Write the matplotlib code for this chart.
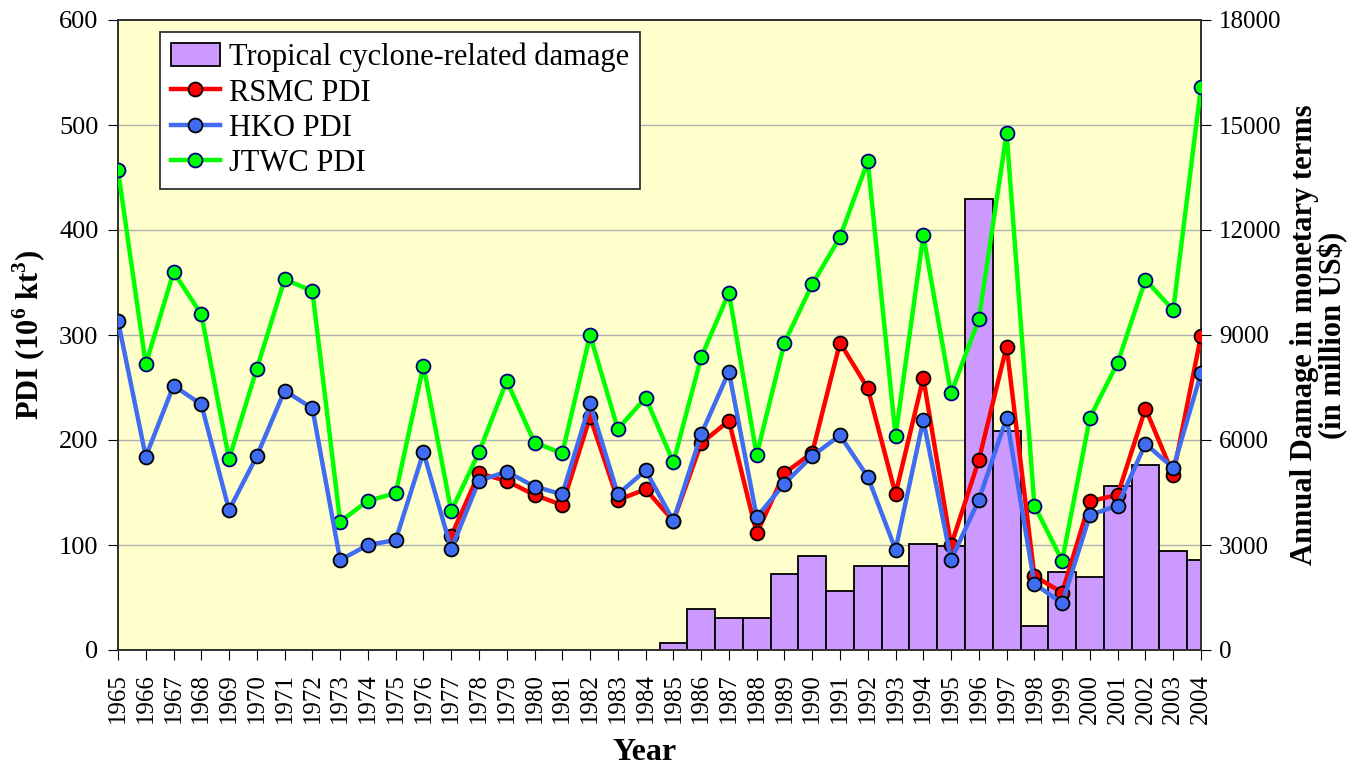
import matplotlib
matplotlib.use("Agg")
import matplotlib.pyplot as plt
import numpy as np
from matplotlib.patches import Patch
from matplotlib.lines import Line2D

years = list(range(1965, 2005))

rsmc = [None]*12 + [108.6, 168.3, 161.0, 147.6, 138.1, 221.9, 142.9, 153.0, 122.9, 196.8,
        218.4, 111.1, 168.3, 187.9, 292.7, 249.3, 148.5, 259.1, 99.6, 181.0,
        289.0, 70.4, 54.7, 141.6, 147.8, 229.9, 166.8, 299.3]
hko = [313.6, 184.1, 251.8, 233.9, 133.3, 184.8, 247.0, 230.2, 85.7, 100.0,
       104.8, 188.3, 96.2, 161.3, 169.8, 155.6, 148.3, 234.9, 148.3, 171.1,
       122.9, 205.4, 265.1, 126.7, 158.4, 184.8, 204.4, 165.0, 95.6, 219.0,
       85.8, 143.0, 221.2, 63.1, 44.5, 128.5, 137.6, 196.4, 173.4, 263.5]
jtwc = [457.0, 272.0, 360.0, 319.7, 181.9, 268.0, 353.0, 341.9, 122.2, 142.2,
        149.2, 270.8, 132.4, 188.3, 256.2, 197.5, 187.3, 300.0, 210.5, 240.3,
        178.7, 278.7, 340.3, 185.7, 292.7, 348.3, 393.3, 465.3, 203.6, 394.9,
        244.5, 315.0, 492.3, 137.6, 85.0, 221.2, 273.7, 352.6, 323.7, 536.5]
damage = [0]*20 + [210, 1162, 905, 905, 2162, 2686, 1690, 2400, 2411, 3022,
                   2967, 12873, 6262, 676, 2236, 2095, 4691, 5291, 2836, 2585]

rsmc_arr = np.array([np.nan if v is None else v for v in rsmc], dtype=float)

plt.rcParams["font.family"] = "serif"
plt.rcParams["font.serif"] = ["Liberation Serif", "DejaVu Serif"]
plt.rcParams["mathtext.fontset"] = "custom"
plt.rcParams["mathtext.rm"] = "Liberation Serif"
plt.rcParams["mathtext.bf"] = "Liberation Serif:bold"
FAM = "Liberation Serif"

fig = plt.figure(figsize=(13.61, 7.65), dpi=100)
ax = fig.add_axes([118/1361, 1-650/765, (1201-118)/1361, (650-20)/765])
ax2 = ax.twinx()

ax2.set_zorder(0)
ax.set_zorder(1)
ax.patch.set_visible(False)
ax2.patch.set_visible(True)
ax2.patch.set_facecolor("#FFFFCC")

ax2.bar(years, damage, width=1.0, color="#CC99FF", edgecolor="black", linewidth=1.3, zorder=2)
ax2.set_ylim(0, 18000)
ax2.set_yticks(np.arange(0, 18001, 3000))

for v in range(100, 600, 100):
    ax2.axhline(v*30, color="#B0B0B0", linewidth=1.0, zorder=1)

lw = 3.2
ms = 10
ax.plot(years, jtwc, color="#00FF00", lw=lw, marker="o", ms=ms, mfc="#00FF00", mec="#000080", mew=1.3, zorder=3)
ax.plot(years, rsmc_arr, color="#FF0000", lw=lw, marker="o", ms=ms, mfc="#FF0000", mec="black", mew=1.3, zorder=4)
ax.plot(years, hko, color="#3F6CF0", lw=lw, marker="o", ms=ms, mfc="#3F6CF0", mec="black", mew=1.3, zorder=5)

ax.set_xlim(1965, 2004)
ax.set_ylim(0, 600)
ax.set_yticks(np.arange(0, 601, 100))
ax.set_xticks(years)
ax.set_xticklabels([str(y) for y in years], rotation=90, fontsize=18, family=FAM)
ax.tick_params(axis="y", labelsize=19, length=7, direction="out", pad=7)
ax.tick_params(axis="x", length=7, direction="out", pad=10)
ax2.tick_params(axis="y", labelsize=18, length=7, direction="out", pad=6)
for lab in ax.get_yticklabels() + ax2.get_yticklabels():
    lab.set_family(FAM)

for a in (ax, ax2):
    for s in a.spines.values():
        s.set_linewidth(1.3)
        s.set_color("#333333")

ax.set_ylabel(r"PDI (10$^{\mathbf{6}}$ kt$^{\mathbf{3}}$)", fontsize=22, fontweight="bold", labelpad=8, family=FAM)
ax.set_xlabel("Year", fontsize=23, fontweight="bold", family=FAM)
ax.xaxis.set_label_coords(0.486, -0.14)
ax2.set_ylabel("Annual Damage in monetary terms\n(in million US$)", fontsize=22, fontweight="bold",
               labelpad=6, linespacing=0.95, family=FAM)

handles = [
    Patch(facecolor="#CC99FF", edgecolor="black", linewidth=1.3, label="Tropical cyclone-related damage"),
    Line2D([], [], color="#FF0000", lw=lw, marker="o", ms=ms, mfc="#FF0000", mec="black", mew=1.3, label="RSMC PDI"),
    Line2D([], [], color="#3F6CF0", lw=lw, marker="o", ms=ms, mfc="#3F6CF0", mec="black", mew=1.3, label="HKO PDI"),
    Line2D([], [], color="#00FF00", lw=lw, marker="o", ms=ms, mfc="#00FF00", mec="#000080", mew=1.3, label="JTWC PDI"),
]
leg = ax.legend(handles=handles, loc="upper left", bbox_to_anchor=(160/1361, 1-32/765),
                bbox_transform=fig.transFigure, prop={"family": FAM, "size": 22}, frameon=True, fancybox=False,
                edgecolor="#333333", framealpha=1.0, handlelength=1.6, handleheight=0.8,
                handletextpad=0.3, labelspacing=0.2, borderpad=0.35, borderaxespad=0)
leg.get_frame().set_linewidth(1.3)
leg.set_zorder(10)

fig.savefig("out.png", dpi=100, facecolor="white")
